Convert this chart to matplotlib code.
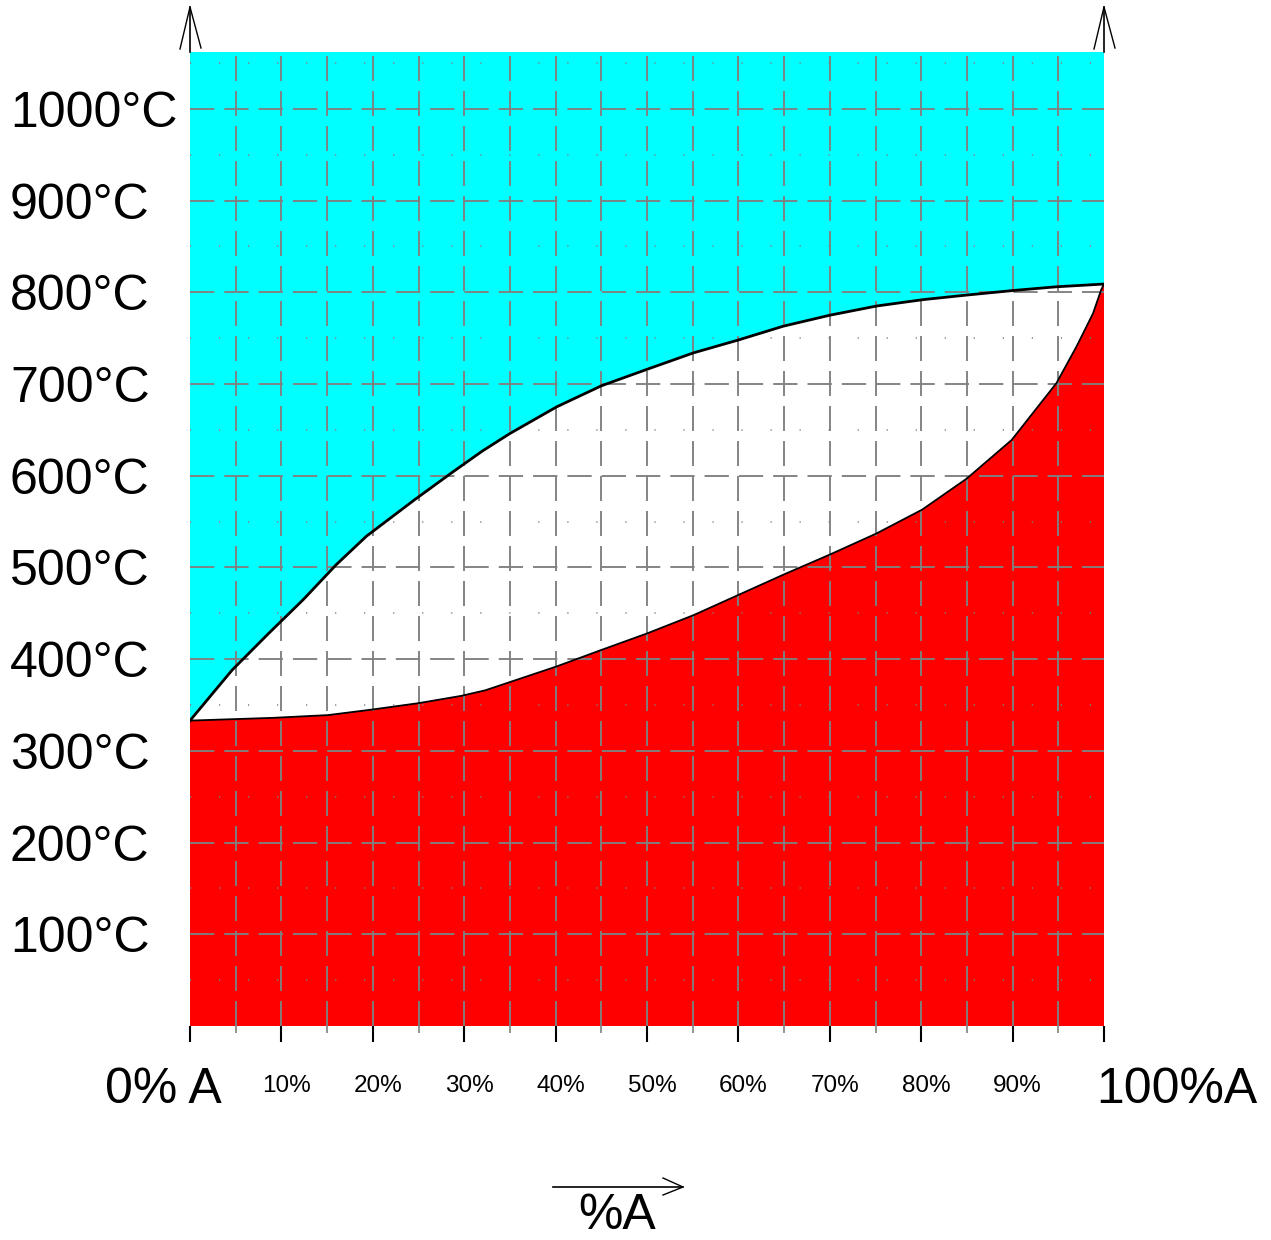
import matplotlib
matplotlib.use('Agg')
import matplotlib.pyplot as plt
from matplotlib.lines import Line2D
import matplotlib.transforms as mtransforms

plt.rcParams['font.family'] = ['Liberation Sans', 'DejaVu Sans']
plt.rcParams['lines.scale_dashes'] = False

# ---- data ----
liquidus_x = [0, 4.6, 8.6, 12.4, 16.0, 19.3, 24.6, 28.6, 32.0, 35.0, 40.1, 45.0, 50.0, 55.1, 60.0, 64.9, 70.0, 75.1, 80.2, 85.0, 90.1, 94.8, 100]
liquidus_T = [333, 388, 428, 465, 503, 534, 574, 603, 627, 646, 675, 698, 716, 734, 748, 763, 775, 785, 792, 797, 802, 806, 809]
solidus_x = [0, 9.1, 15.1, 19.9, 25.0, 29.7, 32.3, 35.0, 40.1, 45.0, 50.0, 55.1, 60.0, 64.9, 70.0, 75.1, 80.1, 85.0, 89.9, 94.8, 97.0, 98.8, 99.7, 100]
solidus_T = [333, 336, 339, 345, 352, 360, 366, 375, 392, 410, 428, 448, 470, 492, 514, 537, 563, 597, 639, 701, 741, 777, 803, 809]

temp_ticks = [100, 200, 300, 400, 500, 600, 700, 800, 900, 1000]
temp_labels = ["100°C", "200°C", "300°C", "400°C", "500°C", "600°C", "700°C", "800°C", "900°C", "1000°C"]
pct_ticks = [0, 10, 20, 30, 40, 50, 60, 70, 80, 90, 100]
pct_labels = ["", "10%", "20%", "30%", "40%", "50%", "60%", "70%", "80%", "90%", ""]
end_labels = ["0% A", "100%A"]
axis_title = "%A"

W, H = 1271, 1240
T_MAX = 1062
fig = plt.figure(figsize=(W / 100, H / 100), dpi=100)
ax = fig.add_axes([190 / W, (H - 1026) / H, (1104 - 190) / W, (1026 - 52) / H])
ax.set_xlim(0, 100)
ax.set_ylim(0, T_MAX)
for s in ax.spines.values():
    s.set_visible(False)

# regions
ax.fill(liquidus_x + [100, 0], liquidus_T + [T_MAX, T_MAX], color='#00FFFF', lw=0, zorder=1)
ax.fill(solidus_x + [100, 0], solidus_T + [0, 0], color='#FF0000', lw=0, zorder=1)

# grid
grey = '#808080'
for v in range(5, 100, 5):
    ax.axvline(v, color=grey, lw=1.35, ls=(0, (18, 7.2)), zorder=2)
for t in temp_ticks:
    ax.axhline(t, color=grey, lw=1.35, ls=(0, (17.5, 7.2)), zorder=2)
for t in range(50, T_MAX, 100):
    ax.axhline(t, color=grey, lw=1.2, ls=(0, (0.8, 20.1)), zorder=2)

# curves
ax.plot(liquidus_x, liquidus_T, color='black', lw=2.0, zorder=4, solid_joinstyle='round')
ax.plot(solidus_x, solidus_T, color='black', lw=1.3, zorder=4, solid_joinstyle='round')

# ticks
ax.set_xticks(pct_ticks, pct_labels)
ax.set_xticks(list(range(5, 100, 10)), minor=True)
ax.tick_params(axis='x', which='major', length=11.5, width=1.5, color='black',
               pad=24, labelsize=17.5)
ax.tick_params(axis='x', which='minor', length=5, width=1.2, color=grey)
offset = mtransforms.ScaledTranslation(5 / 100, 0, fig.dpi_scale_trans)
for lbl in ax.get_xticklabels():
    lbl.set_transform(lbl.get_transform() + offset)

ax.set_yticks(temp_ticks, temp_labels)
ax.tick_params(axis='y', length=0, pad=129.6, labelsize=36)
for lbl in ax.get_yticklabels():
    lbl.set_ha('left')

# big end labels
ax.annotate(end_labels[0], xy=(0, 0), xycoords='data', xytext=(-27, -77),
            textcoords='offset pixels', ha='center', va='baseline', fontsize=36)
ax.annotate(end_labels[1], xy=(100, 0), xycoords='data', xytext=(73, -77),
            textcoords='offset pixels', ha='center', va='baseline', fontsize=36)

# axis title and arrow
fig.text(617 / W, 1 - 1229 / H, axis_title, ha='center', va='baseline', fontsize=36)

def fl(xs, ys, lw):
    fig.add_artist(Line2D([x / W for x in xs], [1 - y / H for y in ys],
                          transform=fig.transFigure, color='black', lw=lw))

fl([553, 683], [1187, 1187], 1.2)
fl([663, 683, 663], [1178, 1187, 1195], 1.0)
for xp in (190, 1104):
    fl([xp, xp], [52, 7], 1.2)
    fl([xp - 10, xp, xp + 11], [49, 7, 48], 1.0)

fig.savefig('out.png', dpi=100)
